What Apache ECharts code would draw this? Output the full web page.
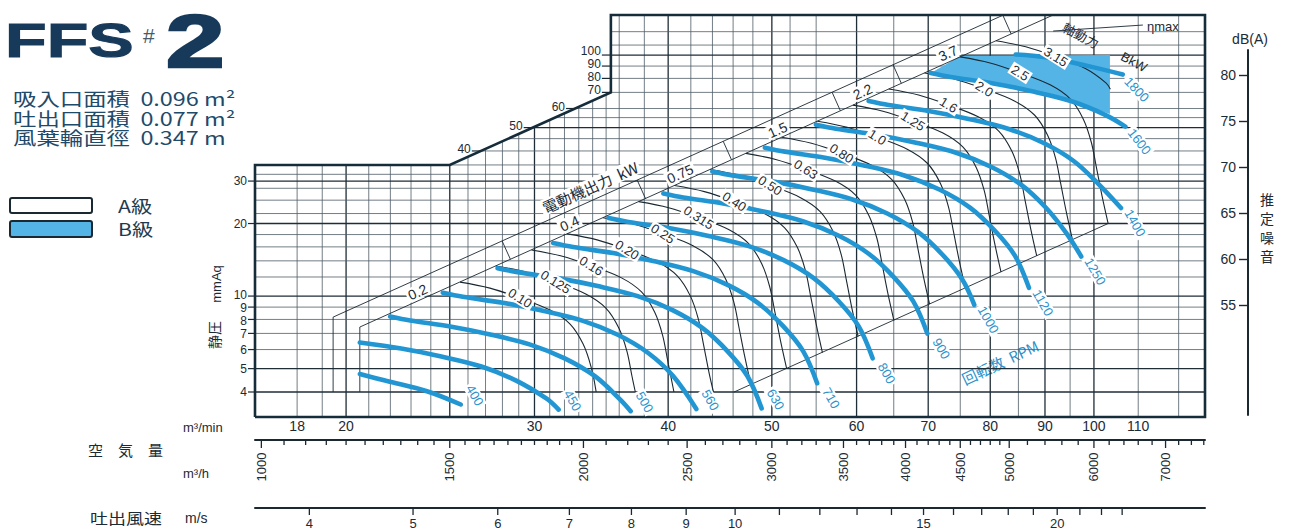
<!DOCTYPE html>
<html>
<head>
<meta charset="utf-8">
<title>FFS #2</title>
<script src="https://cdn.jsdelivr.net/npm/echarts@6.0.0/dist/echarts.min.js"></script>
<style>
html,body{margin:0;padding:0;background:#ffffff;}
#chart{width:1289px;height:529px;}
</style>
</head>
<body>
<div id="chart"></div>
<script>
// ================= DATA =================
const qRange = [16.44, 127];      // air volume m3/min shown
const pRange = [3.15, 146.6];     // static pressure mmAq shown
const outletArea = 0.077;         // m2

const gridQ = [18,19,20,21,22,23,24,25,26,27,28,29,30,31,32,33,34,35,36,38,40,42,44,46,48,50,52,55,60,65,70,75,80,85,90,95,100,110,120];
const gridQMajor = [20,25,30,40,50,60,70,80,90,100];
const gridP = [4,5,6,7,8,9,10,12,14,16,18,20,22,25,28,30,32,35,40,45,50,55,60,70,80,90,100,110,125];
const gridPMajor = [4,5,10,20,30,50,100];

const frameLine = [[16.44,3.15],[127,3.15],[127,146.6],[35.36,146.6],[35.36,70],[25,35],[16.44,35],[16.44,3.15]];
const stepEdge = [[25,35],[35.36,70],[35.36,146.6]];

const qLabels = [18,20,30,40,50,60,70,80,90,100,110];
const pLabelsLeft = [4,5,6,7,8,9,10,20,30];
const pLabelsStep = [40,50,60,70,80,90,100];
const m3hTicks = [1000,1050,1100,1150,1200,1250,1300,1350,1400,1450,1500,1550,1600,1650,1700,1750,1800,1850,1900,1950,2000,
  2100,2200,2300,2400,2500,2600,2700,2800,2900,3000,3100,3200,3300,3400,3500,3600,3700,3800,3900,4000,4100,4200,4300,4400,4500,4600,4700,4800,4900,5000,
  5200,5400,5600,5800,6000,6200,6400,6600,6800,7000,7200,7400,7600];
const m3hLabels = [1000,1500,2000,2500,3000,3500,4000,4500,5000,6000,7000];
const msTicks = [4,5,6,7,8,9,10,11,12,13,14,15,16,17,18,19,20,21,22,23];
const msLabels = [4,5,6,7,8,9,10,15,20];
const dbTicks = [55,60,65,70,75,80];
const dbRange = [43.04, 82.72];

// fan curves (blue), [m3/min, mmAq]
const rpmNames = ['400','450','500','560','630','710','800','900','1000','1120','1250','1400','1600','1800'];
const rpm400 = [[20.6,4.75],[21.8,4.45],[23.8,4.03],[25.6,3.55]];
const rpm450 = [[20.6,6.42],[22.52,6.06],[24.55,5.61],[26.76,5.10],[28.84,4.46],[30.77,3.76],[31.6,3.38]];
const rpm500 = [[21.99,8.23],[22.96,7.92],[25.02,7.48],[27.27,6.93],[29.73,6.29],[32.05,5.50],[34.19,4.64],[36.08,3.72],[36.9,3.33]];
const rpm560 = [[24.63,10.32],[25.71,9.93],[28.02,9.38],[30.55,8.69],[33.30,7.89],[35.89,6.91],[38.29,5.82],[40.41,4.67],[42.5,3.40]];
const rpm630 = [[27.71,13.06],[28.93,12.57],[31.53,11.87],[34.37,11.00],[37.46,9.99],[40.38,8.74],[43.08,7.36],[45.46,5.90],[47.45,4.65],[48.91,3.42]];
const rpm710 = [[31.23,16.59],[32.60,15.97],[35.53,15.08],[38.73,13.97],[42.22,12.69],[45.51,11.10],[48.55,9.35],[51.23,7.50],[53.48,5.91],[55.12,4.35]];
const rpm800 = [[35.19,21.06],[36.73,20.28],[40.04,19.15],[43.64,17.74],[47.57,16.11],[51.28,14.09],[54.71,11.87],[57.73,9.52],[60.26,7.50],[62.11,5.52]];
const rpm900 = [[39.59,26.66],[41.32,25.66],[45.04,24.23],[49.09,22.45],[53.52,20.39],[57.69,17.84],[61.54,15.02],[64.94,12.05],[67.79,9.50],[69.87,6.99]];
const rpm1000 = [[43.99,32.91],[45.92,31.68],[50.04,29.91],[54.55,27.71],[59.47,25.17],[64.10,22.02],[68.38,18.55],[72.16,14.88],[75.33,11.72],[77.3,9.2]];
const rpm1120 = [[49.26,41.28],[51.43,39.74],[56.05,37.52],[61.10,34.76],[66.60,31.58],[71.79,27.62],[76.59,23.27],[80.81,18.66],[84.36,14.71],[86.95,10.82]];
const rpm1250 = [[54.98,51.42],[57.40,49.50],[62.55,46.74],[68.19,43.30],[74.33,39.33],[80.12,34.41],[85.48,28.98],[90.19,23.25],[94.16,18.32],[97.3,14.6]];
const rpm1400 = [[61.58,64.50],[64.28,62.09],[70.06,58.63],[76.37,54.32],[83.25,49.34],[89.74,43.16],[95.73,36.35],[101.0,29.16],[106.0,23.2]];
const rpm1600 = [[70.38,84.25],[73.46,81.10],[80.07,76.58],[87.28,70.94],[95.14,64.44],[102.56,56.37],[107.0,50.5]];
const rpm1800 = [[84.5,100.5],[90.08,97.9],[98.19,90.6],[106.4,83.0]];
const rpmCurves = [rpm400,rpm450,rpm500,rpm560,rpm630,rpm710,rpm800,rpm900,rpm1000,rpm1120,rpm1250,rpm1400,rpm1600,rpm1800];

// shaft power curves (black), kW
const powerNames = ['0.10','0.125','0.16','0.20','0.25','0.315','0.40','0.50','0.63','0.80','1.0','1.25','1.6','2.0','2.5','3.15'];
const pw010 = [[25.56,11.43],[27.26,10.79],[29.08,9.81],[31.02,8.75],[32.39,7.65],[33.31,6.32],[33.89,5.07],[34.26,4.0]];
const pw0125 = [[27.60,13.33],[29.44,12.58],[31.40,11.44],[33.50,10.20],[34.98,8.92],[35.97,7.37],[36.60,5.91],[37.00,4.66],[37.27,4.0]];
const pw016 = [[29.81,15.54],[31.79,14.67],[33.91,13.34],[36.18,11.90],[37.77,10.40],[38.85,8.59],[39.52,6.89],[39.95,5.43],[40.50,4.0]];
const pw020 = [[32.19,18.12],[34.33,17.11],[36.62,15.56],[39.07,13.87],[40.79,12.13],[41.95,10.02],[42.68,8.04],[43.15,6.34],[43.70,4.76],[44.10,4.0]];
const pw025 = [[34.76,21.14],[37.07,19.95],[39.55,18.14],[42.19,16.18],[44.05,14.15],[45.30,11.69],[46.09,9.38],[46.59,7.39],[47.19,5.55],[47.80,4.29]];
const pw0315 = [[37.54,24.65],[40.04,23.27],[42.71,21.15],[45.56,18.87],[47.57,16.49],[48.92,13.63],[49.77,10.93],[50.32,8.62],[50.96,6.47],[51.62,5.00]];
const pw040 = [[40.54,28.74],[43.24,27.13],[46.12,24.67],[49.20,22.00],[51.37,19.24],[52.83,15.89],[53.75,12.75],[54.34,10.05],[55.04,7.54],[55.75,5.83]];
const pw050 = [[43.78,33.51],[46.69,31.64],[49.81,28.76],[53.13,25.66],[55.48,22.43],[57.05,18.53],[58.05,14.87],[58.68,11.72],[59.43,8.80],[60.20,6.80]];
const pw063 = [[47.28,39.08],[50.42,36.89],[53.79,33.54],[57.38,29.92],[59.91,26.16],[61.61,21.61],[62.69,17.33],[63.37,13.66],[64.18,10.26],[65.02,7.93]];
const pw080 = [[51.06,45.57],[54.45,43.02],[58.09,39.11],[61.96,34.89],[64.70,30.50],[66.54,25.20],[67.70,20.21],[68.43,15.93],[69.31,11.96],[70.21,9.25]];
const pw100 = [[55.14,53.14],[58.80,50.16],[62.73,45.61],[66.91,40.68],[69.87,35.57],[71.85,29.38],[73.10,23.57],[73.90,18.58],[74.85,13.95],[75.82,10.79]];
const pw125 = [[59.54,61.97],[63.50,58.50],[67.74,53.18],[72.26,47.44],[75.45,41.47],[77.60,34.26],[78.95,27.49],[79.81,21.66],[80.83,16.26],[81.88,12.58]];
const pw160 = [[64.30,72.26],[68.57,68.21],[73.15,62.02],[78.03,55.32],[81.48,48.36],[83.80,39.95],[85.25,32.05],[86.18,25.26],[87.29,18.97],[88.42,14.67]];
const pw200 = [[69.44,84.26],[74.05,79.54],[79.00,72.32],[84.27,64.51],[87.99,56.40],[90.49,46.59],[92.07,37.38],[93.07,29.46],[94.27,22.12],[95.49,17.10]];
const pw250 = [[74.98,98.26],[79.97,92.76],[85.31,84.33],[91.00,75.22],[95.02,65.76],[97.72,54.33],[99.42,43.58],[100.51,34.35],[101.80,25.79],[103.12,19.94]];
const pw315 = [[80.98,114.58],[86.36,108.16],[92.13,98.34],[98.27,87.71],[102.61,76.69],[103.6,72.2]];
const powerArcs = [pw010,pw0125,pw016,pw020,pw025,pw0315,pw040,pw050,pw063,pw080,pw100,pw125,pw160,pw200,pw250,pw315];

// motor output band (電動機出力 kW)
const bandUpper = [[19.45,4.0],[19.45,8.18],[82.3,146.6]];
const bandLower = [[20.6,4.0],[20.6,7.44],[91.6,146.6]];
const motorNames = ['0.2','0.4','0.75','1.5','2.2','3.7'];
const motorBounds = [19.45,27.98,37.42,45.03,56.92,64.9,82.2];
const lowerLimit = [[46.1,4.0],[103.1,20.0]];
const etaMaxLine = [[91.6,125.8],[111.1,133.2]];
// B級 (B class) region
const classB = [[70.4,84.3],[75.0,99.0],[103.5,100],[103.5,57],[95.1,64.4],[87.3,70.9],[80.1,76.6],[73.5,81.1],[70.4,84.3]];

// ================= STYLE =================
const C = {dark:'#1a2832', grid:'#4f5d66', gridMajor:'#1f2d36', blue:'#2196d3', blueLabel:'#2a92cd',
  shade:'#55b4e6', text:'#1c2a33', title:'#17395a', frame:'#152c3a'};
const NUM = '"Liberation Sans", Arial, sans-serif';
const CJK = '"Noto Sans CJK JP", "Noto Sans CJK SC", sans-serif';

function logInterp(line, q) {
  for (let i = 0; i < line.length - 1; i++) {
    const a = line[i], b = line[i + 1];
    if (a[0] !== b[0] && q >= Math.min(a[0], b[0]) && q <= Math.max(a[0], b[0])) {
      const t = Math.log(q / a[0]) / Math.log(b[0] / a[0]);
      return Math.exp(Math.log(a[1]) + t * Math.log(b[1] / a[1]));
    }
  }
  return null;
}
function stepQ(p) {
  for (let i = 0; i < stepEdge.length - 1; i++) {
    const a = stepEdge[i], b = stepEdge[i + 1];
    if (a[1] !== b[1] && p >= Math.min(a[1], b[1]) && p <= Math.max(a[1], b[1])) {
      if (a[0] === b[0]) return a[0];
      const t = Math.log(p / a[1]) / Math.log(b[1] / a[1]);
      return Math.exp(Math.log(a[0]) + t * Math.log(b[0] / a[0]));
    }
  }
  return stepEdge[stepEdge.length - 1][0];
}
// push apart vertically stacked labels so they do not collide
function spread(ys, gap) {
  const idx = ys.map((y, i) => i).sort((a, b) => ys[a] - ys[b]);
  const out = ys.slice();
  for (let it = 0; it < 40; it++) {
    for (let k = 1; k < idx.length; k++) {
      const i0 = idx[k - 1], i1 = idx[k];
      const d = out[i1] - out[i0];
      if (d < gap) { const s = (gap - d) / 2; out[i0] -= s; out[i1] += s; }
    }
  }
  return out;
}

function custom(items, draw, z, xAxisIndex) {
  return {
    type: 'custom', coordinateSystem: 'cartesian2d', xAxisIndex: xAxisIndex || 0, yAxisIndex: 0,
    z: z, silent: true, animation: false, clip: false,
    data: items.map((it, i) => [it.q != null ? it.q : qRange[0], it.p != null ? it.p : pRange[0], i]),
    renderItem: (params, api) => draw(items[params.dataIndex], api, params, params.dataIndex)
  };
}
function txt(x, y, text, font, fill, opt) {
  opt = opt || {};
  const st = {text: text, font: font, fill: fill || C.text,
      align: opt.align || 'center', verticalAlign: 'middle',
      textAlign: opt.align || 'center', textVerticalAlign: 'middle'};
  if (opt.bg) { st.backgroundColor = opt.bg; st.padding = [0, 2]; }
  if (opt.lineHeight) st.lineHeight = opt.lineHeight;
  if (opt.stroke) { st.stroke = opt.stroke; st.lineWidth = opt.lineWidth || 1; }
  return {type: 'text', x: x, y: y, rotation: opt.rotation || 0, scaleX: opt.scaleX || 1, z2: 10, style: st};
}

const series = [];

// grid lines
series.push(custom(gridQ.map(q => ({q: q})), (it, api) => {
  const a = api.coord([it.q, pRange[0]]), b = api.coord([it.q, pRange[1]]);
  const m = gridQMajor.indexOf(it.q) >= 0;
  return {type: 'line', shape: {x1: a[0], y1: a[1], x2: b[0], y2: b[1]},
    style: {stroke: m ? C.gridMajor : C.grid, lineWidth: m ? 1.3 : 0.8}};
}, 1));
series.push(custom(gridP.map(p => ({p: p})), (it, api) => {
  const a = api.coord([qRange[0], it.p]), b = api.coord([qRange[1], it.p]);
  const m = gridPMajor.indexOf(it.p) >= 0;
  return {type: 'line', shape: {x1: a[0], y1: a[1], x2: b[0], y2: b[1]},
    style: {stroke: m ? C.gridMajor : C.grid, lineWidth: m ? 1.3 : 0.8}};
}, 1));

// white mask above the stepped frame
const maskPts = [[qRange[0], pRange[1]]].concat(frameLine.slice(3, 7).reverse());
series.push(custom([{}], (it, api) => {
  const pts = maskPts.map(pt => api.coord(pt));
  pts.push([pts[0][0] - 3, pts[0][1] - 3]);
  return {type: 'polygon', shape: {points: pts}, style: {fill: '#ffffff'}};
}, 2));

// B class shaded region
series.push(custom([{}], (it, api) => ({type: 'polygon',
  shape: {points: classB.map(pt => api.coord(pt))}, style: {fill: C.shade}}), 3));

// motor band lines, limit lines
[bandUpper, bandLower, lowerLimit, etaMaxLine].forEach(d => series.push({
  type: 'line', data: d, symbol: 'none', silent: true, animation: false, z: 4,
  lineStyle: {color: C.dark, width: 0.9}}));

// motor band separators
const sepItems = motorBounds.slice(1).map(b => ({q: b}));
series.push(custom(sepItems, (it, api) => {
  const pu = logInterp(bandUpper, it.q);
  const qb = it.q * 1.018;
  const pl = logInterp(bandLower, qb);
  if (pu == null || pl == null || pu > pRange[1] + 0.1) return null;
  const a = api.coord([it.q, pu]), b = api.coord([qb, pl]);
  return {type: 'line', shape: {x1: a[0], y1: a[1], x2: b[0], y2: b[1]}, style: {stroke: C.dark, lineWidth: 0.9}};
}, 4));

// shaft power arcs
powerArcs.forEach((d, i) => series.push({
  type: 'line', name: powerNames[i] + ' kW', data: d, smooth: 0.35, symbol: 'none', silent: true, animation: false, z: 4,
  lineStyle: {color: C.dark, width: 1.1}}));

// fan curves
rpmCurves.forEach((d, i) => series.push({
  type: 'line', name: rpmNames[i] + ' rpm', data: d, smooth: 0.35, symbol: 'none', silent: true, animation: false, z: 5,
  lineStyle: {color: C.blue, width: 4.6, cap: 'round'}}));

// frame
series.push({type: 'line', data: frameLine, symbol: 'none', silent: true, animation: false, z: 7, clip: false,
  lineStyle: {color: C.frame, width: 2.6, join: 'miter'}});

// ---- labels inside the plot ----
const labelItems = [];
powerArcs.forEach((arc, i) => labelItems.push({q: arc[2][0], p: arc[2][1], kind: 'pw', text: powerNames[i], t0: arc[2], t1: arc[4]}));
rpmCurves.forEach((c, i) => labelItems.push({q: c[c.length - 1][0], p: c[c.length - 1][1], kind: 'rpm', text: rpmNames[i]}));
motorNames.forEach((n, i) => {
  const q = Math.sqrt(motorBounds[i] * motorBounds[i + 1]);
  const p = Math.sqrt(logInterp(bandUpper, q) * logInterp(bandLower, q));
  labelItems.push({q: q, p: p, kind: 'motor', text: n});
});
labelItems.push({q: 34.2, p: logInterp(bandUpper, 34.2), kind: 'motorTitle', text: '電動機出力  kW'});

series.push(custom(labelItems, (it, api, params) => {
  const a = api.coord([it.q, it.p]);
  const bottom = params.coordSys.y + params.coordSys.height;
  if (it.kind === 'pw') {
    const p0 = api.coord(it.t0), p1 = api.coord(it.t1);
    const ang = Math.atan2(p1[1] - p0[1], p1[0] - p0[0]);
    return txt(a[0], a[1], it.text, '13px ' + NUM, C.text, {rotation: -ang - 0.08, bg: '#ffffff', lineHeight: 13});
  }
  if (it.kind === 'rpm') {
    const nearBottom = a[1] > bottom - 16;
    const x = a[0] + 14, y = nearBottom ? a[1] - 9 : a[1] + 15;
    let rot = -60;
    if (it.text === '1600') rot = -52;
    if (it.text === '1800') rot = -46;
    return txt(x, y, it.text, '13px ' + NUM, C.blueLabel, {rotation: rot * Math.PI / 180, bg: '#ffffff', lineHeight: 13});
  }
  // band direction
  const u0 = api.coord(bandLower[1]), u1 = api.coord(bandLower[2]);
  const ang = Math.atan2(u1[1] - u0[1], u1[0] - u0[0]);
  if (it.kind === 'motor') {
    return txt(a[0], a[1] + 2, it.text, '14px ' + NUM, C.text, {rotation: -ang, bg: '#ffffff', lineHeight: 14});
  }
  const nx = Math.sin(ang), ny = -Math.cos(ang);
  return txt(a[0] + nx * 13, a[1] + ny * 13, it.text, '15px ' + CJK, C.text, {rotation: -ang, bg: '#ffffff', lineHeight: 16});
}, 8));

// ---- axis ticks & labels built from tick arrays ----
// left pressure labels
series.push(custom(pLabelsLeft.map(p => ({p: p})), (it, api, params, i) => {
  const a = api.coord([qRange[0], it.p]);
  const ys = spread(pLabelsLeft.map(p => api.coord([qRange[0], p])[1]), 13);
  return {type: 'group', children: [
    {type: 'line', shape: {x1: a[0] - 7, y1: a[1], x2: a[0], y2: a[1]}, style: {stroke: C.dark, lineWidth: 1.2}},
    txt(a[0] - 8, ys[i], String(it.p), '12px ' + NUM, C.text, {align: 'right', lineHeight: 11})]};
}, 9));
// pressure labels on the stepped boundary
series.push(custom(pLabelsStep.map(p => ({p: p})), (it, api, params, i) => {
  const a = api.coord([stepQ(it.p), it.p]);
  const ys = spread(pLabelsStep.map(p => api.coord([stepQ(p), p])[1] - 2), 13);
  return {type: 'group', children: [
    {type: 'line', shape: {x1: a[0] - 9, y1: a[1], x2: a[0], y2: a[1]}, style: {stroke: C.dark, lineWidth: 1.2}},
    txt(a[0] - 10, ys[i], String(it.p), '12px ' + NUM, C.text, {align: 'right', lineHeight: 11})]};
}, 9));
// m3/min labels
series.push(custom(qLabels.map(q => ({q: q})), (it, api, params) => {
  const a = api.coord([it.q, pRange[0]]);
  return txt(a[0], params.coordSys.y + params.coordSys.height + 9, String(it.q), '14px ' + NUM, C.text);
}, 9));
// m3/h ticks
series.push(custom(m3hTicks.map(h => ({q: h})), (it, api, params) => {
  const a = api.coord([it.q, pRange[0]]);
  const y0 = params.coordSys.y + params.coordSys.height + 23;
  const lab = m3hLabels.indexOf(it.q) >= 0;
  const ch = [{type: 'line', shape: {x1: a[0], y1: y0, x2: a[0], y2: y0 + (lab ? 8 : 5)}, style: {stroke: C.dark, lineWidth: 1.3}}];
  if (lab) ch.push(txt(a[0], y0 + 27, String(it.q), '13px ' + NUM, C.text, {rotation: Math.PI / 2}));
  return {type: 'group', children: ch};
}, 9, 1));
// m/s ticks
series.push(custom(msTicks.map(v => ({q: v})), (it, api, params) => {
  const a = api.coord([it.q, pRange[0]]);
  const y0 = params.coordSys.y + params.coordSys.height + 91;
  const lab = msLabels.indexOf(it.q) >= 0;
  const ch = [{type: 'line', shape: {x1: a[0], y1: y0, x2: a[0], y2: y0 + 7}, style: {stroke: C.dark, lineWidth: 1.3}}];
  if (lab) ch.push(txt(a[0], y0 + 15, String(it.q), '13px ' + NUM, C.text));
  return {type: 'group', children: ch};
}, 9, 2));

// ---- free texts ----
const graphics = [
  txt(5, 40, 'FFS', 'bold 48px ' + NUM, C.title, {align: 'left', scaleX: 1.42, stroke: C.title, lineWidth: 1}),
  txt(143, 35, '#', '21px ' + NUM, '#4a5a66', {align: 'left'}),
  txt(166, 41, '2', 'bold 74px ' + NUM, C.title, {align: 'left', scaleX: 1.42, stroke: C.title, lineWidth: 2.5}),
  txt(13, 98, '吸入口面積  0.096 m²', '18px ' + CJK, '#1f4a6a', {align: 'left', scaleX: 1.3, lineHeight: 18}),
  txt(13, 118, '吐出口面積  0.077 m²', '18px ' + CJK, '#1f4a6a', {align: 'left', scaleX: 1.3, lineHeight: 18}),
  txt(13, 137, '風葉輪直徑  0.347 m', '18px ' + CJK, '#1f4a6a', {align: 'left', scaleX: 1.3, lineHeight: 18}),
  {type: 'rect', shape: {x: 10, y: 198, width: 82, height: 15, r: 2}, style: {fill: '#ffffff', stroke: C.dark, lineWidth: 2}},
  {type: 'rect', shape: {x: 10, y: 221, width: 82, height: 16, r: 2}, style: {fill: C.shade, stroke: C.dark, lineWidth: 2}},
  txt(118, 206, 'A級', '17px ' + CJK, '#1f3a50', {align: 'left', scaleX: 1.25, lineHeight: 17}),
  txt(118, 229, 'B級', '17px ' + CJK, '#1f3a50', {align: 'left', scaleX: 1.25, lineHeight: 17}),
  txt(365, 70, '單吸式', '19px ' + CJK, C.text, {align: 'left', scaleX: 1.3}),
  txt(216, 284, 'mmAq', '13px ' + NUM, C.text, {rotation: Math.PI / 2}),
  txt(214, 335, '静圧', '14px ' + CJK, C.text, {rotation: Math.PI / 2}),
  txt(183, 427, 'm³/min', '13px ' + NUM, C.text, {align: 'left'}),
  txt(88, 449, '空　気　量', '15px ' + CJK, C.text, {align: 'left'}),
  txt(183, 473, 'm³/h', '13px ' + NUM, C.text, {align: 'left'}),
  txt(90, 518, '吐出風速', '15px ' + CJK, C.text, {align: 'left', scaleX: 1.2}),
  txt(185, 518, 'm/s', '14px ' + NUM, C.text, {align: 'left'}),
  txt(1000, 362, '回転数  RPM', '15px ' + CJK, C.blueLabel, {rotation: 25 * Math.PI / 180, bg: '#ffffff', lineHeight: 16}),
  txt(1081, 35, '軸動力', '13px ' + CJK, C.text, {rotation: -28 * Math.PI / 180, bg: '#ffffff', lineHeight: 13}),
  txt(1134, 62, 'BkW', '13px ' + NUM, C.text, {rotation: -28 * Math.PI / 180, bg: '#ffffff', lineHeight: 13}),
  txt(1145, 26, 'ηmax', '13px ' + NUM, C.text, {align: 'left', bg: '#ffffff', lineHeight: 13}),
  txt(1250, 39, 'dB(A)', '14px ' + NUM, C.text),
  txt(1267, 199, '推', '14px ' + CJK, C.text, {lineHeight: 14}),
  txt(1267, 218, '定', '14px ' + CJK, C.text, {lineHeight: 14}),
  txt(1267, 237, '噪', '14px ' + CJK, C.text, {lineHeight: 14}),
  txt(1267, 256, '音', '14px ' + CJK, C.text, {lineHeight: 14})
];

const chart = echarts.init(document.getElementById('chart'), null, {renderer: 'svg', width: 1289, height: 529});
chart.setOption({
  animation: false,
  backgroundColor: '#ffffff',
  grid: [
    {left: 255, top: 15, width: 950, height: 402, outerBoundsMode: 'none', containLabel: false},
    {left: 1248, top: 50, width: 1, height: 365, outerBoundsMode: 'none', containLabel: false}
  ],
  xAxis: [
    {gridIndex: 0, type: 'log', logBase: 10, min: qRange[0], max: qRange[1],
      axisLine: {show: false}, axisTick: {show: false}, axisLabel: {show: false}, splitLine: {show: false}},
    {gridIndex: 0, type: 'log', logBase: 10, min: qRange[0] * 60, max: qRange[1] * 60, position: 'bottom', offset: 23,
      axisLine: {show: true, lineStyle: {color: C.dark, width: 2}}, axisTick: {show: false}, axisLabel: {show: false}, splitLine: {show: false}},
    {gridIndex: 0, type: 'log', logBase: 10, min: qRange[0] / (60 * outletArea), max: qRange[1] / (60 * outletArea), position: 'bottom', offset: 91,
      axisLine: {show: true, lineStyle: {color: C.dark, width: 2}}, axisTick: {show: false}, axisLabel: {show: false}, splitLine: {show: false}},
    {gridIndex: 1, type: 'value', show: false, min: 0, max: 1}
  ],
  yAxis: [
    {gridIndex: 0, type: 'log', logBase: 10, min: pRange[0], max: pRange[1],
      axisLine: {show: false}, axisTick: {show: false}, axisLabel: {show: false}, splitLine: {show: false}},
    {gridIndex: 1, type: 'value', min: dbRange[0], max: dbRange[1], position: 'left',
      axisLine: {show: true, lineStyle: {color: C.dark, width: 2}},
      axisTick: {show: true, length: 9, customValues: dbTicks, lineStyle: {color: C.dark, width: 1.4}},
      axisLabel: {show: true, customValues: dbTicks, fontSize: 14, color: C.text, fontFamily: 'Liberation Sans', margin: 12},
      splitLine: {show: false}}
  ],
  graphic: {elements: graphics},
  series: series
});
</script>
</body>
</html>
